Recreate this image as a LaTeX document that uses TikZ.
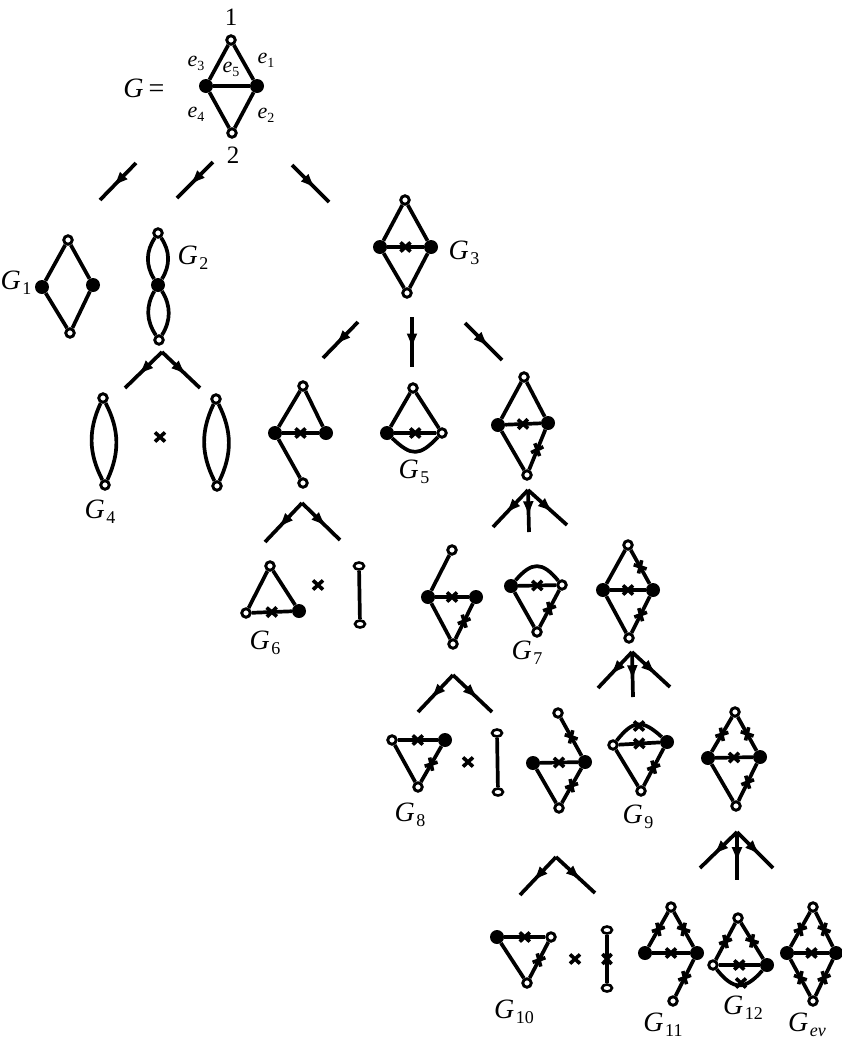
\documentclass[tikz,border=0pt]{standalone}
\usepackage{fontspec}
\setmainfont{Liberation Serif}
\usetikzlibrary{arrows.meta,decorations.markings,shapes.geometric}
\newcommand{\Gsub}[1]{{\fontsize{28}{30}\selectfont\itshape G}\kern1.5pt\raisebox{-5pt}{\fontsize{18}{18}\selectfont #1}}
\newcommand{\esub}[1]{{\fontsize{22}{24}\selectfont\itshape e}\raisebox{-4pt}{\fontsize{14}{15}\selectfont #1}}
\begin{document}
\begin{tikzpicture}[x=1pt,y=-1pt,
  ov/.style={circle,draw,fill=white,line width=2.9pt,minimum size=8.5pt,inner sep=0pt},
  fv/.style={circle,fill=black,minimum size=14pt,inner sep=0pt},
  tv/.style={ellipse,draw,fill=white,line width=2.6pt,minimum width=10pt,minimum height=7pt,inner sep=0pt},
  ed/.style={line width=3.7pt},
  marr/.style={line width=3.7pt,postaction={decorate},
    decoration={markings,mark=at position 0.65 with {\arrow{Latex[length=16pt,width=11pt]}}}},
  lab/.style={inner sep=0pt},
  xm/.pic={\draw[line width=3.6pt] (-5pt,-4.6pt)--(5pt,4.6pt) (-5pt,4.6pt)--(5pt,-4.6pt);}
]
\useasboundingbox (0,0) rectangle (841,1039);

% ---------- G ----------
\node[ov] (t0) at (231,40) {};
\node[fv] (l0) at (206,86) {};
\node[fv] (r0) at (257,86) {};
\node[ov] (b0) at (232,133) {};
\draw[ed] (t0)--(l0) (t0)--(r0) (l0)--(r0) (l0)--(b0) (r0)--(b0);
\node[lab] (n1) at (231,17) {\fontsize{25}{26}\selectfont 1};
\node[lab] (n2) at (233,155) {\fontsize{25}{26}\selectfont 2};
\node[lab] (geq) at (144,88) {{\fontsize{28}{30}\selectfont\itshape G}\kern5pt{\fontsize{28}{30}\selectfont =}};
\node[lab] (e3) at (196,63) {\esub{3}};
\node[lab] (e1) at (266,60) {\esub{1}};
\node[lab] (e5) at (231,69) {\esub{5}};
\node[lab] (e4) at (196,114) {\esub{4}};
\node[lab] (e2) at (266,115) {\esub{2}};

% top arrows
\coordinate (a1s) at (136,163); \coordinate (a1e) at (100,200);
\coordinate (a2s) at (213,162); \coordinate (a2e) at (177,198);
\coordinate (a3s) at (292,165); \coordinate (a3e) at (329,202);
\draw[marr] (a1s)--(a1e);
\draw[marr] (a2s)--(a2e);
\draw[marr] (a3s)--(a3e);

% ---------- G1 ----------
\node[ov] (g1t) at (68,240) {};
\node[fv] (g1l) at (42,287) {};
\node[fv] (g1r) at (93,285) {};
\node[ov] (g1b) at (70,333) {};
\draw[ed] (g1t)--(g1l) (g1t)--(g1r) (g1l)--(g1b) (g1r)--(g1b);
\node[lab] (G1) at (16,283) {\Gsub{1}};

% ---------- G2 ----------
\node[ov] (g2t) at (158,233) {};
\node[fv] (g2m) at (158,285) {};
\node[ov] (g2b) at (159,340) {};
\draw[ed] (g2t) to[bend left=33] (g2m) (g2t) to[bend right=33] (g2m)
          (g2m) to[bend left=32] (g2b) (g2m) to[bend right=32] (g2b);
\node[lab] (G2) at (193,258) {\Gsub{2}};
\coordinate (s1) at (162,352); \coordinate (s1a) at (125,388); \coordinate (s1b) at (200,388);
\draw[marr] (s1)--(s1a);
\draw[marr] (s1)--(s1b);

% ---------- G4 ----------
\node[ov] (g4at) at (103,398) {};
\node[ov] (g4ab) at (105,485) {};
\node[ov] (g4bt) at (216,399) {};
\node[ov] (g4bb) at (217,486) {};
\draw[ed] (g4at) to[bend left=26] (g4ab) (g4at) to[bend right=26] (g4ab)
          (g4bt) to[bend left=26] (g4bb) (g4bt) to[bend right=26] (g4bb);
\pic at (160,437) {xm};
\node[lab] (G4) at (100,512) {\Gsub{4}};

% ---------- G3 ----------
\node[ov] (g3t) at (405,200) {};
\node[fv] (g3l) at (380,247) {};
\node[fv] (g3r) at (431,247) {};
\node[ov] (g3b) at (407,293) {};
\draw[ed] (g3t)--(g3l) (g3t)--(g3r) (g3l)--(g3b) (g3r)--(g3b);
\draw[ed] (g3l)--(g3r) pic[pos=.5,sloped]{xm};
\node[lab] (G3) at (464,253) {\Gsub{3}};
\coordinate (b1s) at (358,322); \coordinate (b1e) at (323,358);
\coordinate (b2s) at (412,317); \coordinate (b2e) at (412,367);
\coordinate (b3s) at (465,323); \coordinate (b3e) at (502,360);
\draw[marr] (b1s)--(b1e);
\draw[marr] (b2s)--(b2e);
\draw[marr] (b3s)--(b3e);

% ---------- A (pendant) ----------
\node[ov] (at) at (303,386) {};
\node[fv] (al) at (275,433) {};
\node[fv] (ar) at (326,433) {};
\node[ov] (ap) at (303,483) {};
\draw[ed] (at)--(al) (at)--(ar) (al)--(ap);
\draw[ed] (al)--(ar) pic[pos=.5,sloped]{xm};

% ---------- G5 ----------
\node[ov] (g5t) at (413,388) {};
\node[fv] (g5l) at (387,433) {};
\node[ov] (g5r) at (442,433) {};
\draw[ed] (g5t)--(g5l) (g5t)--(g5r);
\draw[ed] (g5l)--(g5r) pic[pos=.5,sloped]{xm};
\draw[ed] (g5l) to[bend right=45,looseness=1.5] (g5r);
\node[lab] (G5) at (414,472) {\Gsub{5}};

% ---------- C ----------
\node[ov] (ct) at (524,377) {};
\node[fv] (cl) at (498,425) {};
\node[fv] (cr) at (548,423) {};
\node[ov] (cb) at (527,475) {};
\draw[ed] (ct)--(cl) (ct)--(cr) (cl)--(cb);
\draw[ed] (cl)--(cr) pic[pos=.5,sloped]{xm};
\draw[ed] (cr)--(cb) pic[pos=.5,sloped]{xm};

% ---------- split under A, G6 ----------
\coordinate (s2) at (302,503); \coordinate (s2a) at (265,542); \coordinate (s2b) at (340,540);
\draw[marr] (s2)--(s2a);
\draw[marr] (s2)--(s2b);
\node[ov] (g6t) at (270,566) {};
\node[ov] (g6l) at (246,613) {};
\node[fv] (g6r) at (299,611) {};
\draw[ed] (g6t)--(g6l) (g6t)--(g6r);
\draw[ed] (g6l)--(g6r) pic[pos=.5,sloped]{xm};
\node[lab] (G6) at (265,643) {\Gsub{6}};
\pic at (318,585) {xm};
\node[tv] (k1t) at (359,566) {};
\node[tv] (k1b) at (360,624) {};
\draw[ed] (k1t)--(k1b);

% ---------- triple under C ----------
\coordinate (t1) at (528,490); \coordinate (t1a) at (493,527); \coordinate (t1b) at (529,532); \coordinate (t1c) at (567,525);
\draw[marr] (t1)--(t1a);
\draw[marr] (t1)--(t1b);
\draw[marr] (t1)--(t1c);

% ---------- C1 ----------
\node[ov] (c1t) at (452,550) {};
\node[fv] (c1l) at (428,597) {};
\node[fv] (c1r) at (476,597) {};
\node[ov] (c1b) at (453,644) {};
\draw[ed] (c1t)--(c1l) (c1l)--(c1b);
\draw[ed] (c1l)--(c1r) pic[pos=.5,sloped]{xm};
\draw[ed] (c1r)--(c1b) pic[pos=.5,sloped]{xm};

% ---------- G7 ----------
\node[fv] (g7l) at (511,586) {};
\node[ov] (g7r) at (562,585) {};
\node[ov] (g7b) at (537,632) {};
\draw[ed] (g7l) to[bend left=50,looseness=1.5] (g7r);
\draw[ed] (g7l)--(g7b);
\draw[ed] (g7l)--(g7r) pic[pos=.5,sloped]{xm};
\draw[ed] (g7r)--(g7b) pic[pos=.5,sloped]{xm};
\node[lab] (G7) at (527,653) {\Gsub{7}};

% ---------- C3 ----------
\node[ov] (c3t) at (628,545) {};
\node[fv] (c3l) at (603,590) {};
\node[fv] (c3r) at (653,590) {};
\node[ov] (c3b) at (629,638) {};
\draw[ed] (c3t)--(c3l) (c3l)--(c3b);
\draw[ed] (c3t)--(c3r) pic[pos=.5,sloped]{xm};
\draw[ed] (c3l)--(c3r) pic[pos=.5,sloped]{xm};
\draw[ed] (c3r)--(c3b) pic[pos=.5,sloped]{xm};

% ---------- split under C1, G8 ----------
\coordinate (s3) at (453,675); \coordinate (s3a) at (418,712); \coordinate (s3b) at (492,712);
\draw[marr] (s3)--(s3a);
\draw[marr] (s3)--(s3b);
\node[ov] (g8l) at (392,740) {};
\node[fv] (g8r) at (445,740) {};
\node[ov] (g8b) at (418,787) {};
\draw[ed] (g8l)--(g8b);
\draw[ed] (g8l)--(g8r) pic[pos=.5,sloped]{xm};
\draw[ed] (g8r)--(g8b) pic[pos=.5,sloped]{xm};
\node[lab] (G8) at (410,815) {\Gsub{8}};
\pic at (468,762) {xm};
\node[tv] (k2t) at (497,733) {};
\node[tv] (k2b) at (498,792) {};
\draw[ed] (k2t)--(k2b);

% ---------- triple under C3 ----------
\coordinate (t2) at (632,652); \coordinate (t2a) at (598,688); \coordinate (t2b) at (633,697); \coordinate (t2c) at (670,687);
\draw[marr] (t2)--(t2a);
\draw[marr] (t2)--(t2b);
\draw[marr] (t2)--(t2c);

% ---------- C31 ----------
\node[ov] (d1t) at (558,713) {};
\node[fv] (d1l) at (533,763) {};
\node[fv] (d1r) at (585,762) {};
\node[ov] (d1b) at (559,808) {};
\draw[ed] (d1l)--(d1b);
\draw[ed] (d1t)--(d1r) pic[pos=.5,sloped]{xm};
\draw[ed] (d1l)--(d1r) pic[pos=.5,sloped]{xm};
\draw[ed] (d1r)--(d1b) pic[pos=.5,sloped]{xm};

% ---------- G9 ----------
\node[ov] (g9l) at (613,745) {};
\node[fv] (g9r) at (667,742) {};
\node[ov] (g9b) at (641,791) {};
\draw[ed] (g9l) to[bend left=47,looseness=1.5] (g9r);
\pic at (639,726) {xm};
\draw[ed] (g9l)--(g9b);
\draw[ed] (g9l)--(g9r) pic[pos=.5,sloped]{xm};
\draw[ed] (g9r)--(g9b) pic[pos=.5,sloped]{xm};
\node[lab] (G9) at (638,817) {\Gsub{9}};

% ---------- C33 ----------
\node[ov] (d3t) at (735,712) {};
\node[fv] (d3l) at (708,758) {};
\node[fv] (d3r) at (760,757) {};
\node[ov] (d3b) at (736,806) {};
\draw[ed] (d3l)--(d3b);
\draw[ed] (d3t)--(d3l) pic[pos=.5,sloped]{xm};
\draw[ed] (d3t)--(d3r) pic[pos=.5,sloped]{xm};
\draw[ed] (d3l)--(d3r) pic[pos=.5,sloped]{xm};
\draw[ed] (d3r)--(d3b) pic[pos=.5,sloped]{xm};

% ---------- split under C31, G10 ----------
\coordinate (s4) at (556,857); \coordinate (s4a) at (520,895); \coordinate (s4b) at (595,893);
\draw[marr] (s4)--(s4a);
\draw[marr] (s4)--(s4b);
\node[fv] (g10l) at (497,937) {};
\node[ov] (g10r) at (551,937) {};
\node[ov] (g10b) at (527,983) {};
\draw[ed] (g10l)--(g10b);
\draw[ed] (g10l)--(g10r) pic[pos=.5,sloped]{xm};
\draw[ed] (g10r)--(g10b) pic[pos=.5,sloped]{xm};
\node[lab] (G10) at (514,1012) {\Gsub{10}};
\pic at (575,959) {xm};
\node[tv] (k3t) at (607,930) {};
\node[tv] (k3b) at (607,988) {};
\draw[ed] (k3t)--(k3b) pic[pos=.5,sloped]{xm};

% ---------- triple under C33 ----------
\coordinate (t3) at (737,832); \coordinate (t3a) at (700,868); \coordinate (t3b) at (737,880); \coordinate (t3c) at (773,868);
\draw[marr] (t3)--(t3a);
\draw[marr] (t3)--(t3b);
\draw[marr] (t3)--(t3c);

% ---------- G11 ----------
\node[ov] (h1t) at (671,907) {};
\node[fv] (h1l) at (645,953) {};
\node[fv] (h1r) at (697,953) {};
\node[ov] (h1p) at (673,1001) {};
\draw[ed] (h1t)--(h1l) pic[pos=.5,sloped]{xm};
\draw[ed] (h1t)--(h1r) pic[pos=.5,sloped]{xm};
\draw[ed] (h1l)--(h1r) pic[pos=.5,sloped]{xm};
\draw[ed] (h1r)--(h1p) pic[pos=.5,sloped]{xm};
\node[lab] (G11) at (663,1025) {\Gsub{11}};

% ---------- G12 ----------
\node[ov] (h2t) at (738,918) {};
\node[ov] (h2l) at (713,965) {};
\node[fv] (h2r) at (767,965) {};
\draw[ed] (h2t)--(h2l) pic[pos=.5,sloped]{xm};
\draw[ed] (h2t)--(h2r) pic[pos=.5,sloped]{xm};
\draw[ed] (h2l)--(h2r) pic[pos=.5,sloped]{xm};
\draw[ed] (h2l) to[bend right=50,looseness=1.5] (h2r);
\pic at (741,983) {xm};
\node[lab] (G12) at (743,1008) {\Gsub{12}};

% ---------- Gev ----------
\node[ov] (h3t) at (813,907) {};
\node[fv] (h3l) at (787,953) {};
\node[fv] (h3r) at (836,953) {};
\node[ov] (h3b) at (813,1001) {};
\draw[ed] (h3t)--(h3l) pic[pos=.5,sloped]{xm};
\draw[ed] (h3t)--(h3r) pic[pos=.5,sloped]{xm};
\draw[ed] (h3l)--(h3r) pic[pos=.5,sloped]{xm};
\draw[ed] (h3l)--(h3b) pic[pos=.5,sloped]{xm};
\draw[ed] (h3r)--(h3b) pic[pos=.5,sloped]{xm};
\node[lab] (Gev) at (807,1025) {\Gsub{\itshape ev}};
\end{tikzpicture}
\end{document}
